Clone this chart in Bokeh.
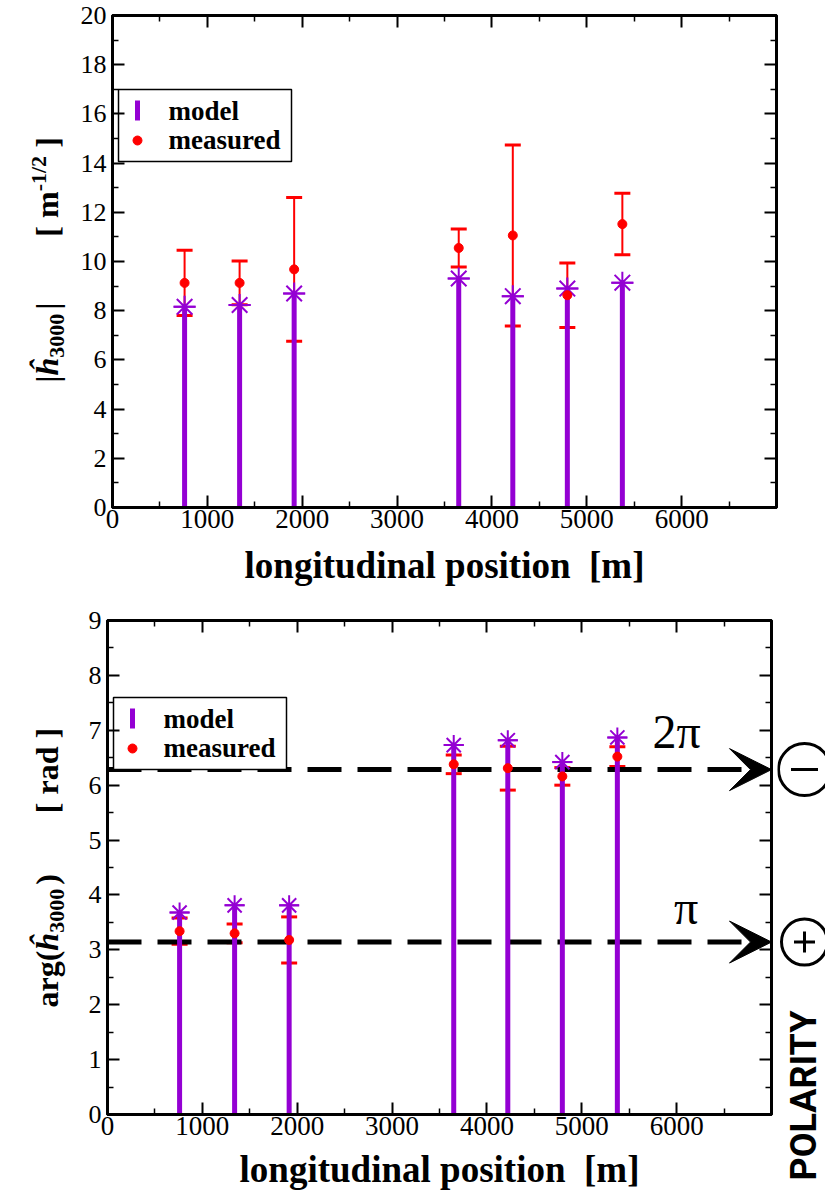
from math import pi
from bokeh.plotting import figure
from bokeh.models import (Range1d, FixedTicker, LinearAxis, Whisker, TeeHead, ColumnDataSource,
                          Label, BoxAnnotation, Arrow, VeeHead, CustomJSTickFormatter)
from bokeh.layouts import column, row
from bokeh.embed import file_html
from bokeh.resources import INLINE

# ---------------- data ----------------
positions = [760, 1340, 1915, 3650, 4220, 4795, 5375]
amp_model = [8.16, 8.23, 8.70, 9.31, 8.59, 8.90, 9.14]
amp_measured = [9.13, 9.13, 9.68, 10.55, 11.06, 8.63, 11.52]
amp_error = [1.33, 0.89, 2.92, 0.77, 3.68, 1.31, 1.25]
phase_model = [3.68, 3.81, 3.81, 6.73, 6.82, 6.42, 6.87]
phase_measured = [3.34, 3.30, 3.18, 6.38, 6.31, 6.16, 6.52]
phase_error = [0.24, 0.17, 0.42, 0.17, 0.40, 0.16, 0.18]
x_ticks = [0, 1000, 2000, 3000, 4000, 5000, 6000]
x_minor = [500, 1500, 2500, 3500, 4500, 5500, 6500]
amp_ticks = [0, 2, 4, 6, 8, 10, 12, 14, 16, 18, 20]
amp_minor = [1, 3, 5, 7, 9, 11, 13, 15, 17, 19]
phase_ticks = [0, 1, 2, 3, 4, 5, 6, 7, 8, 9]
phase_minor = [0.5, 1.5, 2.5, 3.5, 4.5, 5.5, 6.5, 7.5, 8.5]
polarity_levels = [pi, 2 * pi]
polarity_text = ["π", "2π"]
polarity_sign = ["cross", "dash"]
X_END, AMP_END, PHASE_END = 7000, 20, 9

PURPLE = "#9400d3"
RED = "#ff0000"
SERIF = "Liberation Serif"
LAB_W = 70

TOP = dict(width=825 - LAB_W, height=590, left=112 - LAB_W, right=49, top=15, bottom=83,
           xlabel_standoff=14)
BOT = dict(width=777 - LAB_W, height=603, left=107 - LAB_W, right=6, top=30, bottom=79,
           xlabel_standoff=11)

W = {'|': .22, 'ĥ': .556, '3': .5, '0': .5, ' ': .25, '[': .333, ']': .333, 'm': .833,
     '-': .333, '1': .5, '/': .278, '2': .5, 'a': .5, 'r': .444, 'g': .5, '(': .333,
     ')': .333, 'd': .556}


def text_w(t, size):
    return sum(W.get(c, .5) for c in t) * size


def no_align(p):
    try:
        p.frame_align = False
    except Exception:
        pass


def frame_h(geom):
    return geom["height"] - geom["top"] - geom["bottom"]


def converters(geom, x_end, y_end):
    fw = geom["width"] - geom["left"] - geom["right"]
    fh = frame_h(geom)
    return (lambda px: px * x_end / fw), (lambda py: y_end - py * y_end / fh)


def style_axis(ax, ticks, minor, labels, size="27px"):
    ax.ticker = FixedTicker(ticks=ticks, minor_ticks=minor)
    ax.major_tick_in = 12
    ax.major_tick_out = 0
    ax.minor_tick_in = 6
    ax.minor_tick_out = 0
    ax.major_tick_line_width = 2
    ax.minor_tick_line_width = 1.5
    ax.major_tick_line_color = "black"
    ax.minor_tick_line_color = "black"
    ax.axis_line_width = 3
    ax.axis_line_color = "black"
    if labels:
        ax.major_label_text_font = SERIF
        ax.major_label_text_font_size = size
        ax.major_label_text_color = "black"
    else:
        ax.formatter = CustomJSTickFormatter(code="return ''")
        ax.major_label_text_font_size = "1px"
        ax.major_label_standoff = 0


def make_panel(geom, y_end, yticks, yminor, model, measured, error, star_size):
    p = figure(width=geom["width"], height=geom["height"],
               x_range=Range1d(0, X_END), y_range=Range1d(0, y_end),
               min_border_left=geom["left"], min_border_right=geom["right"],
               min_border_top=geom["top"], min_border_bottom=geom["bottom"],
               output_backend="svg", toolbar_location=None, tools="")
    no_align(p)
    p.grid.visible = False
    p.outline_line_color = "black"
    p.outline_line_width = 3
    p.background_fill_color = "white"
    p.border_fill_color = "white"
    style_axis(p.xaxis[0], x_ticks, x_minor, True, "27px")
    style_axis(p.yaxis[0], yticks, yminor, True, "26px")
    p.xaxis[0].major_label_standoff = 2
    p.yaxis[0].major_label_standoff = 6
    p.xaxis[0].axis_label = "longitudinal position\u00a0 [m]"
    p.xaxis[0].axis_label_text_font = SERIF
    p.xaxis[0].axis_label_text_font_style = "bold"
    p.xaxis[0].axis_label_text_font_size = "37px"
    p.xaxis[0].axis_label_text_color = "black"
    p.xaxis[0].axis_label_standoff = geom["xlabel_standoff"]
    top_ax = LinearAxis()
    style_axis(top_ax, x_ticks, x_minor, False)
    p.add_layout(top_ax, "above")
    right_ax = LinearAxis()
    style_axis(right_ax, yticks, yminor, False)
    p.add_layout(right_ax, "right")

    src = ColumnDataSource(dict(
        x=positions, model=model, measured=measured,
        lower=[m - e for m, e in zip(measured, error)],
        upper=[m + e for m, e in zip(measured, error)]))
    p.segment(x0="x", y0=0, x1="x", y1="model", line_width=5, line_color=PURPLE, source=src)
    p.scatter("x", "model", marker="asterisk", size=star_size, line_width=2,
              line_color=PURPLE, source=src)
    p.scatter("x", "model", marker="dash", size=star_size, line_width=2,
              line_color=PURPLE, source=src)
    p.add_layout(Whisker(source=src, base="x", lower="lower", upper="upper",
                         line_color=RED, line_width=2,
                         upper_head=TeeHead(size=16, line_color=RED, line_width=3),
                         lower_head=TeeHead(size=16, line_color=RED, line_width=3)))
    p.scatter("x", "measured", marker="circle", size=9, color=RED, source=src)
    return p


def add_legend(p, geom, y_end, top_px):
    fx, fy = converters(geom, X_END, y_end)
    p.add_layout(BoxAnnotation(left=fx(6), right=fx(179), top=fy(top_px),
                               bottom=fy(top_px + 72),
                               fill_color="white", fill_alpha=1, line_color="black",
                               line_width=1.5, line_alpha=1, level="underlay"))
    p.rect(x=[fx(25)], y=[fy(top_px + 21)], width=5, height=20, width_units="screen",
           height_units="screen", fill_color=PURPLE, line_color=None)
    p.scatter(x=[fx(25)], y=[fy(top_px + 51)], size=9, color=RED)
    for txt, py in (("model", top_px + 21), ("measured", top_px + 50)):
        p.add_layout(Label(x=fx(56), y=fy(py), text=txt, text_font=SERIF,
                           text_font_style="bold", text_font_size="27px",
                           text_color="black", text_baseline="middle"))


def label_fig(geom, y_end, pieces, start_py, base_x):
    """Narrow figure left of a panel carrying its rotated y-axis title."""
    q = figure(width=LAB_W, height=geom["height"], x_range=Range1d(0, LAB_W),
               y_range=Range1d(0, y_end), min_border_left=0, min_border_right=0,
               min_border_top=geom["top"], min_border_bottom=geom["bottom"],
               x_axis_location=None, y_axis_location=None,
               output_backend="svg", toolbar_location=None, tools="")
    no_align(q)
    q.grid.visible = False
    q.outline_line_color = None
    q.border_fill_color = "white"
    q.background_fill_color = "white"
    fh = frame_h(geom)
    cur = start_py
    for piece in pieces:
        if piece[0] == "gap":
            cur -= piece[1]
            continue
        txt, size, style, shift = piece
        q.add_layout(Label(x=base_x + shift - 0.34 * size, y=y_end - cur * y_end / fh,
                           text=txt, angle=pi / 2, text_font=SERIF, text_font_style=style,
                           text_font_size=f"{size}px", text_color="black",
                           text_align="left", text_baseline="middle"))
        cur -= text_w(txt, size)
    return q


# ---------------- top panel ----------------
p1 = make_panel(TOP, AMP_END, amp_ticks, amp_minor, amp_model, amp_measured, amp_error, 22)
add_legend(p1, TOP, AMP_END, 74)
l1 = label_fig(TOP, AMP_END, [
    ("|", 32, "bold italic", 0), ("ĥ", 32, "bold italic", 0), ("3000", 22, "bold", 7),
    ("gap", 4), ("|", 32, "bold", 0), ("gap", 66), ("[ m", 32, "bold", 0),
    ("-1/2", 22, "bold", -12), ("gap", 8), ("]", 32, "bold", 0)], 367, 57)

# ---------------- bottom panel ----------------
p2 = make_panel(BOT, PHASE_END, phase_ticks, phase_minor, phase_model, phase_measured,
                phase_error, 20)
ppu = frame_h(BOT) / PHASE_END
for lvl in polarity_levels:
    p2.add_layout(Arrow(end=VeeHead(size=42, fill_color="black", line_color="black"),
                        x_start=0, y_start=lvl, x_end=X_END, y_end=lvl,
                        line_color="black", line_width=5, line_dash="34 16",
                        level="underlay"))
add_legend(p2, BOT, PHASE_END, 77)
for lvl, txt, xc, dy in zip(polarity_levels, polarity_text, [6100, 6000], [35, 38]):
    p2.add_layout(Label(x=xc, y=lvl + dy / ppu, text=txt, text_font=SERIF,
                        text_font_size="48px", text_color="black", text_align="center",
                        text_baseline="middle"))
l2 = label_fig(BOT, PHASE_END, [
    ("arg(", 32, "bold", 0), ("ĥ", 32, "bold italic", 0), ("3000", 22, "bold", 7),
    ("gap", 4), (")", 32, "bold", 0), ("gap", 61), ("[ rad", 32, "bold", 0),
    ("gap", 8), ("]", 32, "bold", 0)], 387, 57)

# ---------------- polarity column ----------------
pw = 825 - LAB_W - BOT["width"]
p3 = figure(width=pw, height=BOT["height"], x_range=Range1d(0, pw),
            y_range=Range1d(-BOT["bottom"] / ppu, PHASE_END + BOT["top"] / ppu),
            min_border=0, x_axis_location=None, y_axis_location=None,
            output_backend="svg", toolbar_location=None, tools="")
no_align(p3)
p3.grid.visible = False
p3.outline_line_color = None
p3.background_fill_color = "white"
p3.border_fill_color = "white"
cx = 27
p3.scatter(x=[cx, cx], y=polarity_levels, size=[46, 52], marker="circle",
           fill_color=None, line_color="black", line_width=3)
p3.scatter(x=[cx, cx], y=polarity_levels, size=[21, 27], marker=polarity_sign,
           line_color="black", line_width=3)
p3.add_layout(Label(x=26, y=19 / ppu, text="POLARITY", angle=pi / 2,
                    text_font="Roboto", text_font_style="bold",
                    text_font_size="36px", text_color="black", text_align="center",
                    text_baseline="middle"))

layout = column(row(l1, p1), row(l2, p2, p3))
with open("out.html", "w") as f:
    f.write(file_html(layout, INLINE))
